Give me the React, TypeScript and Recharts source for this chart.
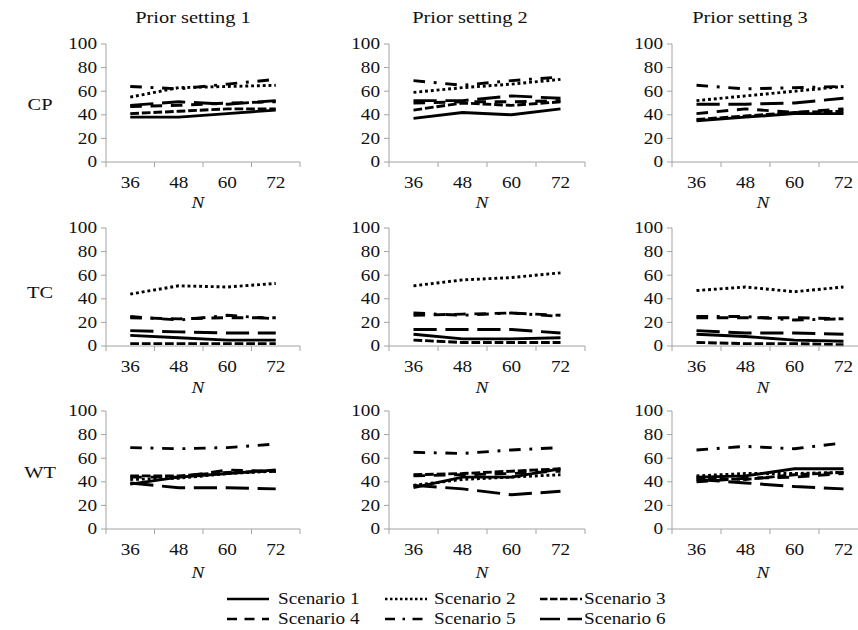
import React from 'react';
import { LineChart, Line, XAxis, YAxis } from 'recharts';

// ---- data ----
const N_VALUES = [36, 48, 60, 72];
const X_BOUNDARIES = [30, 42, 54, 66, 78];
const Y_TICKS = [0, 20, 40, 60, 80, 100];
const SCENARIOS = ['Scenario 1', 'Scenario 2', 'Scenario 3', 'Scenario 4', 'Scenario 5', 'Scenario 6'];
const PRIOR_SETTINGS = ['Prior setting 1', 'Prior setting 2', 'Prior setting 3'];
const MEASURES = ['CP', 'TC', 'WT'];

// each panel: values of Scenario 1..6 at N = 36, 48, 60, 72
const cp1 = [[38, 38, 41, 44], [55, 63, 64, 65], [41, 43, 45, 45], [47, 48, 50, 51], [64, 62, 66, 70], [48, 51, 49, 52]];
const cp2 = [[37, 42, 40, 45], [59, 63, 66, 70], [44, 50, 48, 51], [50, 51, 51, 52], [69, 65, 69, 72], [52, 52, 56, 54]];
const cp3 = [[35, 38, 41, 41], [52, 56, 60, 64], [36, 39, 42, 43], [41, 45, 42, 45], [65, 62, 63, 64], [49, 49, 50, 54]];
const tc1 = [[9, 7, 5, 5], [44, 51, 50, 53], [2, 2, 2, 2], [24, 23, 24, 24], [25, 22, 26, 23], [13, 12, 11, 11]];
const tc2 = [[10, 6, 6, 7], [51, 56, 58, 62], [5, 3, 3, 3], [26, 27, 28, 26], [28, 26, 28, 25], [14, 14, 14, 11]];
const tc3 = [[10, 8, 5, 4], [47, 50, 46, 50], [3, 2, 2, 1], [24, 24, 24, 23], [25, 25, 22, 23], [13, 11, 11, 10]];
const wt1 = [[38, 44, 47, 50], [42, 43, 47, 49], [45, 45, 48, 49], [44, 44, 50, 49], [69, 68, 69, 72], [39, 35, 35, 34]];
const wt2 = [[35, 44, 44, 51], [37, 42, 44, 46], [46, 47, 49, 51], [45, 46, 47, 49], [65, 64, 67, 69], [37, 34, 29, 32]];
const wt3 = [[44, 45, 51, 51], [45, 47, 47, 48], [43, 42, 46, 48], [40, 43, 44, 47], [67, 70, 68, 73], [42, 39, 36, 34]];

const PANELS = [
  [cp1, cp2, cp3],
  [tc1, tc2, tc3],
  [wt1, wt2, wt3],
];

// ---- styles ----
const DASH_UNITS = [[], [1, 1], [3, 1], [4, 3], [4, 3, 1, 3], [8, 3]];
const dashFor = (i: number, w: number) => DASH_UNITS[i].map((u) => u * w).join(' ');
const FONT = 'Liberation Serif';
const SX = 1.2; // horizontal stretch of the lettering, as in the source figure
const AXIS_COLOR = '#a3a3a3';
const TEXT_COLOR = '#111';
const LINE_W = 2.9;
const TICK_SIZE = 5;
const TICK_MARGIN = 8;

const PLOT_LEFT = [106, 389, 672];
const PLOT_W = [194, 196, 196];
const PLOT_TOP = [44, 228, 411];
const PLOT_H = 118;
const Y_AXIS_W = 50;
const X_AXIS_H = 30;
const M_TOP = 10;
const M_RIGHT = 6;

const TITLE_X = [193, 470, 750];
const N_X = [198, 482, 763];
const N_Y = [203, 388, 573];
const ROW_LABEL_X = 40;
const ROW_LABEL_Y = [104, 292, 472];

const buildRows = (panel: number[][]) =>
  N_VALUES.map((n, j) => {
    const row: Record<string, number> = { n };
    panel.forEach((series, i) => {
      row['s' + (i + 1)] = series[j];
    });
    return row;
  });

type STProps = {
  x: number;
  y: number;
  anchor?: 'start' | 'middle' | 'end';
  baseline?: string;
  size?: number;
  italic?: boolean;
  children: React.ReactNode;
};

const StretchText = ({ x, y, anchor = 'middle', baseline = 'central', size = 16, italic = false, children }: STProps) => (
  <text
    transform={`translate(${x} ${y}) scale(${SX} 1)`}
    x={0}
    y={0}
    textAnchor={anchor}
    dominantBaseline={baseline}
    fontFamily={FONT}
    fontStyle={italic ? 'italic' : 'normal'}
    fontSize={size}
    fill={TEXT_COLOR}
  >
    {children}
  </text>
);

const XTick = (props: any) => {
  const { x, y, payload } = props;
  const v = payload.value;
  if (X_BOUNDARIES.includes(v)) {
    return <line x1={x} x2={x} y1={y - TICK_MARGIN - TICK_SIZE} y2={y - TICK_MARGIN} stroke={AXIS_COLOR} strokeWidth={1} />;
  }
  return (
    <StretchText x={x} y={y + 8} size={16}>
      {v}
    </StretchText>
  );
};

const YTick = (props: any) => {
  const { x, y, payload } = props;
  return (
    <StretchText x={x} y={y} anchor="end" size={16}>
      {payload.value}
    </StretchText>
  );
};

const Panel = ({ r, c }: { r: number; c: number }) => {
  const data = buildRows(PANELS[r][c]);
  const width = Y_AXIS_W + PLOT_W[c] + M_RIGHT;
  const height = M_TOP + PLOT_H + X_AXIS_H;
  return (
    <div style={{ position: 'absolute', left: PLOT_LEFT[c] - Y_AXIS_W, top: PLOT_TOP[r] - M_TOP, width, height }}>
      <LineChart width={width} height={height} data={data} margin={{ top: M_TOP, right: M_RIGHT, bottom: 0, left: 0 }}>
        <XAxis
          dataKey="n"
          type="number"
          domain={[30, 78]}
          ticks={[...X_BOUNDARIES, ...N_VALUES].sort((a, b) => a - b)}
          interval={0}
          height={X_AXIS_H}
          tickSize={TICK_SIZE}
          tickMargin={TICK_MARGIN}
          tickLine={false}
          axisLine={{ stroke: AXIS_COLOR, strokeWidth: 1 }}
          tick={<XTick />}
        />
        <YAxis
          type="number"
          domain={[0, 100]}
          ticks={Y_TICKS}
          interval={0}
          width={Y_AXIS_W}
          tickSize={TICK_SIZE}
          tickMargin={4}
          axisLine={{ stroke: AXIS_COLOR, strokeWidth: 1 }}
          tickLine={{ stroke: AXIS_COLOR, strokeWidth: 1 }}
          tick={<YTick />}
        />
        {SCENARIOS.map((name, i) => (
          <Line
            key={name}
            name={name}
            dataKey={'s' + (i + 1)}
            type="linear"
            stroke="#000"
            strokeWidth={LINE_W}
            strokeDasharray={dashFor(i, LINE_W) || undefined}
            dot={false}
            activeDot={false}
            isAnimationActive={false}
          />
        ))}
      </LineChart>
    </div>
  );
};

const LEGEND_LINE_X = [227, 385, 540];
const LEGEND_TEXT_X = [278, 434, 584];
const LEGEND_Y = [599, 619];
const LEGEND_LINE_LEN = 42;
const LEGEND_W = 2.5;

export default function App() {
  return (
    <div style={{ position: 'absolute', left: 0, top: 0, width: 858, height: 630, overflow: 'hidden', background: '#fff' }}>
      {MEASURES.map((m, r) => PRIOR_SETTINGS.map((p, c) => <Panel key={m + p} r={r} c={c} />))}
      <svg width={858} height={630} style={{ position: 'absolute', left: 0, top: 0, pointerEvents: 'none' }}>
        {PRIOR_SETTINGS.map((t, c) => (
          <StretchText key={t} x={TITLE_X[c]} y={17} size={17}>
            {t}
          </StretchText>
        ))}
        {MEASURES.map((m, r) => (
          <StretchText key={m} x={ROW_LABEL_X} y={ROW_LABEL_Y[r]} size={17}>
            {m}
          </StretchText>
        ))}
        {N_Y.map((y, r) =>
          N_X.map((x, c) => (
            <StretchText key={r + '-' + c} x={x} y={y} size={16} italic>
              N
            </StretchText>
          ))
        )}
        {SCENARIOS.map((name, i) => {
          const col = i % 3;
          const row = Math.floor(i / 3);
          const y = LEGEND_Y[row];
          return (
            <g key={name}>
              <line
                x1={LEGEND_LINE_X[col]}
                x2={LEGEND_LINE_X[col] + LEGEND_LINE_LEN}
                y1={y}
                y2={y}
                stroke="#000"
                strokeWidth={LEGEND_W}
                strokeDasharray={dashFor(i, LEGEND_W) || undefined}
              />
              <StretchText x={LEGEND_TEXT_X[col]} y={y} anchor="start" size={16}>
                {name}
              </StretchText>
            </g>
          );
        })}
      </svg>
    </div>
  );
}
